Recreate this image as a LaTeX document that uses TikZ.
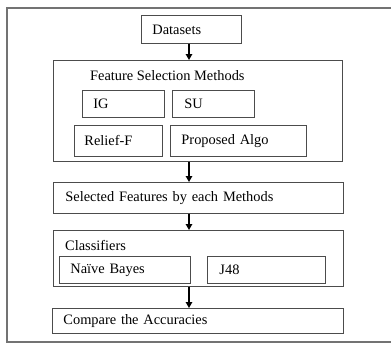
\documentclass[tikz,border=0pt]{standalone}
\usepackage{fontspec}
\setmainfont{Liberation Serif}
\usetikzlibrary{arrows.meta}
\definecolor{framegray}{gray}{0.45}
\definecolor{boxgray}{gray}{0.3}
\tikzset{
  box/.style={draw=boxgray, line width=0.9pt, anchor=north west, align=left,
    inner ysep=0pt, font=\fontsize{14.4}{17}\selectfont},
  title/.style={anchor=west, inner sep=0pt, font=\fontsize{14.4}{17}\selectfont},
  flow/.style={line width=1.3pt, -{Triangle[length=6pt,width=6.5pt]}}
}
\begin{document}
\begin{tikzpicture}[x=1pt,y=-1pt]
\useasboundingbox (0,0) rectangle (391,343);
\draw[framegray, line width=1.2pt] (391,8) -- (7,8) -- (7,342) -- (391,342);

\node[box, minimum width=100pt, minimum height=28pt, text width=78pt, inner xsep=11pt] (ds) at (141,15) {Datasets};

\node[box, minimum width=289pt, minimum height=101pt] (fs) at (53,60) {};
\node[title] (fst) at (90,76) {Feature Selection Methods};
\node[box, minimum width=82pt, minimum height=27pt, text width=60pt, inner xsep=11pt] (ig) at (82,90) {IG};
\node[box, minimum width=82pt, minimum height=27pt, text width=58pt, inner xsep=12pt] (su) at (172,90) {SU};
\node[box, minimum width=88pt, minimum height=31pt, text width=68pt, inner xsep=10pt] (rf) at (74,125) {Relief-F};
\node[box, minimum width=136pt, minimum height=31pt, text width=114pt, inner xsep=11pt] (pa) at (170,125) {Proposed Algo};

\node[box, minimum width=290pt, minimum height=31pt, text width=266pt, inner xsep=12pt] (sel) at (53,182) {Selected Features by each Methods};

\node[box, minimum width=290pt, minimum height=56pt] (cl) at (53,230) {};
\node[title] (clt) at (65,245) {Classifiers};
\node[box, minimum width=131pt, minimum height=27pt, text width=109pt, inner xsep=11pt] (nb) at (59,256) {Naïve Bayes};
\node[box, minimum width=118pt, minimum height=27pt, text width=94pt, inner xsep=12pt] (j48) at (207,256) {J48};

\node[box, minimum width=291pt, minimum height=25pt, text width=269pt, inner xsep=11pt] (cmp) at (52,308) {Compare the Accuracies};

\coordinate (ax) at (189,0);
\draw[flow] (ds.south -| ax) -- (fs.north -| ax);
\draw[flow] (fs.south -| ax) -- (sel.north -| ax);
\draw[flow] (sel.south -| ax) -- (cl.north -| ax);
\draw[flow] (cl.south -| ax) -- (cmp.north -| ax);
\end{tikzpicture}
\end{document}
